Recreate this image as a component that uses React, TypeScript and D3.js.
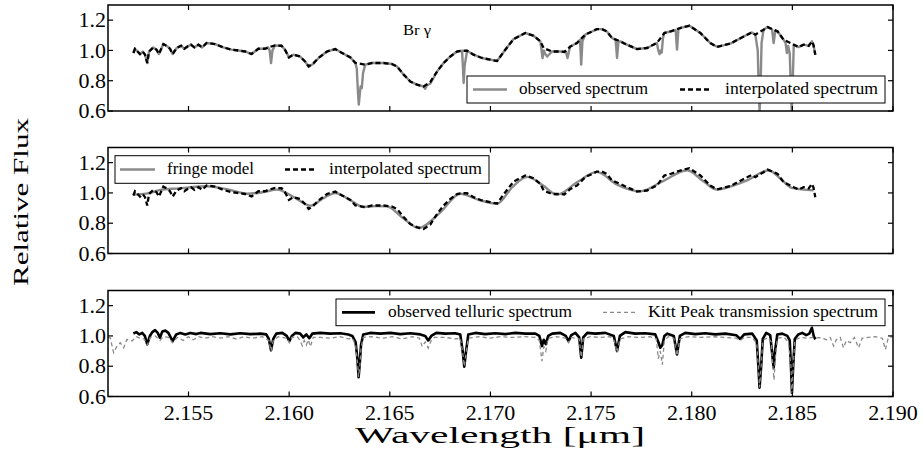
import React from 'react';
import * as d3 from 'd3';

// ---------------- data ----------------
const X_DOMAIN = [2.151, 2.19];
const Y_DOMAIN = [0.6, 1.3];
const X_TICKS = [2.155, 2.16, 2.165, 2.17, 2.175, 2.18, 2.185, 2.19];
const X_TICK_LABELS = ['2.155', '2.160', '2.165', '2.170', '2.175', '2.180', '2.185', '2.190'];
const Y_TICKS = [0.6, 0.8, 1.0, 1.2];
const Y_TICK_LABELS = ['0.6', '0.8', '1.0', '1.2'];

// interpolated spectrum (panels 1 and 2)
const INTERP_WL = [2.15226, 2.15234, 2.15247, 2.15259, 2.15272, 2.15284, 2.15295, 2.15304, 2.15325, 2.15341, 2.15353, 2.15375, 2.15396, 2.15408, 2.15421, 2.15441, 2.15463, 2.15479, 2.15495, 2.15512, 2.15529, 2.15549, 2.15568, 2.1559, 2.15632, 2.15673, 2.15714, 2.15756, 2.15781, 2.15813, 2.15847, 2.1588, 2.15896, 2.1593, 2.15962, 2.15979, 2.15999, 2.16021, 2.16054, 2.16079, 2.16097, 2.16121, 2.16146, 2.16188, 2.16229, 2.16263, 2.16304, 2.16329, 2.16378, 2.16412, 2.16469, 2.16511, 2.16536, 2.16569, 2.16602, 2.16635, 2.16668, 2.16701, 2.16735, 2.16767, 2.16801, 2.16834, 2.16859, 2.16884, 2.16916, 2.16958, 2.16999, 2.17033, 2.17074, 2.17115, 2.17173, 2.17214, 2.17248, 2.17264, 2.17306, 2.17347, 2.17367, 2.17397, 2.1743, 2.17471, 2.17505, 2.17529, 2.17554, 2.17579, 2.17604, 2.17645, 2.17678, 2.17728, 2.17778, 2.17827, 2.17864, 2.17894, 2.17943, 2.17989, 2.18043, 2.18092, 2.18126, 2.18192, 2.18258, 2.18299, 2.18316, 2.18357, 2.18377, 2.18427, 2.18456, 2.18507, 2.18531, 2.18556, 2.18581, 2.18597, 2.18605, 2.18614];
const INTERP_FLUX = [0.983, 1.011, 0.993, 0.976, 0.993, 0.972, 0.917, 0.993, 1.02, 1.005, 0.976, 1.042, 1.026, 1.011, 0.976, 1.016, 1.031, 1.011, 1.026, 1.038, 1.02, 1.038, 1.02, 1.049, 1.042, 1.02, 1.005, 0.998, 0.993, 0.976, 1.011, 1.011, 1.02, 1.033, 1.031, 1.005, 0.954, 0.972, 0.96, 0.927, 0.894, 0.917, 0.95, 0.993, 1.009, 0.983, 0.954, 0.917, 0.906, 0.917, 0.917, 0.91, 0.894, 0.84, 0.795, 0.774, 0.762, 0.791, 0.861, 0.917, 0.96, 0.993, 0.998, 0.998, 0.972, 0.95, 0.939, 0.93, 1.005, 1.075, 1.115, 1.097, 1.06, 1.016, 0.993, 0.993, 0.99, 1.026, 1.049, 1.104, 1.125, 1.141, 1.141, 1.125, 1.082, 1.06, 1.038, 1.009, 1.016, 1.049, 1.115, 1.125, 1.148, 1.163, 1.115, 1.049, 1.024, 1.045, 1.092, 1.119, 1.104, 1.137, 1.154, 1.125, 1.071, 1.038, 1.022, 1.038, 1.03, 1.06, 1.035, 0.972];

// observed spectrum (panel 1)
const OBS_WL = [2.15226, 2.15234, 2.15247, 2.15259, 2.15272, 2.15284, 2.15295, 2.15304, 2.15325, 2.15341, 2.15353, 2.15375, 2.15396, 2.15408, 2.15421, 2.15441, 2.15463, 2.15479, 2.15495, 2.15512, 2.15529, 2.15549, 2.15568, 2.1559, 2.15632, 2.15673, 2.15714, 2.15756, 2.15781, 2.15813, 2.15847, 2.1588, 2.15896, 2.15903, 2.1591, 2.15917, 2.1593, 2.15962, 2.15979, 2.15999, 2.16021, 2.16054, 2.16079, 2.16097, 2.16121, 2.16146, 2.16188, 2.16229, 2.16263, 2.16304, 2.16329, 2.16336, 2.16342, 2.16346, 2.1635, 2.16355, 2.16361, 2.16367, 2.16378, 2.16412, 2.16469, 2.16511, 2.16536, 2.16569, 2.16602, 2.16635, 2.16668, 2.16676, 2.16684, 2.16701, 2.16735, 2.16767, 2.16801, 2.16834, 2.16859, 2.16863, 2.16867, 2.16872, 2.16884, 2.16916, 2.16958, 2.16999, 2.17033, 2.17074, 2.17115, 2.17173, 2.17214, 2.17248, 2.17254, 2.17259, 2.17265, 2.17273, 2.17282, 2.17306, 2.17347, 2.17375, 2.17383, 2.17391, 2.17397, 2.1743, 2.17445, 2.17451, 2.17457, 2.17471, 2.17505, 2.17529, 2.17554, 2.17579, 2.17604, 2.17622, 2.17629, 2.17636, 2.17645, 2.17678, 2.17728, 2.17778, 2.17827, 2.17834, 2.1784, 2.17846, 2.17851, 2.17857, 2.17864, 2.17894, 2.1792, 2.17927, 2.17934, 2.17943, 2.17989, 2.18043, 2.18092, 2.18126, 2.18192, 2.18258, 2.18299, 2.18316, 2.18328, 2.18334, 2.18337, 2.18341, 2.18347, 2.18357, 2.18377, 2.18399, 2.18407, 2.18415, 2.18427, 2.18456, 2.18466, 2.18473, 2.18479, 2.18487, 2.18494, 2.18497, 2.185, 2.18507, 2.18531, 2.18556, 2.18581, 2.18597, 2.18605, 2.18614];
const OBS_FLUX = [0.983, 1.011, 0.993, 0.976, 0.993, 0.972, 0.917, 0.993, 1.02, 1.005, 0.976, 1.042, 1.026, 1.011, 0.976, 1.016, 1.031, 1.011, 1.026, 1.038, 1.02, 1.038, 1.02, 1.049, 1.042, 1.02, 1.005, 0.998, 0.993, 0.976, 1.011, 1.011, 1.02, 1.0, 0.917, 1.0, 1.033, 1.031, 1.005, 0.954, 0.972, 0.96, 0.927, 0.894, 0.912, 0.95, 0.993, 1.009, 0.983, 0.954, 0.917, 0.88, 0.72, 0.642, 0.7, 0.762, 0.752, 0.85, 0.906, 0.917, 0.917, 0.91, 0.894, 0.84, 0.795, 0.774, 0.762, 0.747, 0.77, 0.78, 0.861, 0.917, 0.96, 0.993, 0.998, 0.9, 0.785, 0.9, 0.998, 0.972, 0.95, 0.939, 0.93, 1.005, 1.075, 1.115, 1.097, 1.06, 1.0, 0.95, 1.0, 0.975, 0.96, 0.993, 0.993, 0.99, 0.95, 1.0, 1.026, 1.049, 1.07, 0.906, 1.06, 1.104, 1.125, 1.141, 1.141, 1.125, 1.082, 1.07, 0.95, 1.06, 1.06, 1.038, 1.009, 1.016, 1.049, 1.0, 0.975, 1.0, 0.985, 1.08, 1.115, 1.125, 1.135, 1.005, 1.14, 1.148, 1.163, 1.115, 1.049, 1.024, 1.045, 1.092, 1.119, 1.104, 1.0, 0.7, 0.6, 0.7, 1.05, 1.137, 1.154, 1.14, 1.049, 1.13, 1.125, 1.071, 1.05, 0.983, 1.03, 0.98, 0.7, 0.6, 0.7, 1.038, 1.022, 1.038, 1.03, 1.06, 1.035, 0.972];

// fringe model (panel 2)
const FRINGE_WL = [2.15224, 2.1529, 2.1536, 2.1545, 2.15592, 2.1569, 2.15791, 2.1587, 2.1594, 2.1602, 2.16105, 2.1617, 2.16229, 2.163, 2.1637, 2.1643, 2.16486, 2.1656, 2.16643, 2.1675, 2.1685, 2.1694, 2.17033, 2.1711, 2.17182, 2.1726, 2.17331, 2.1743, 2.17529, 2.17629, 2.17745, 2.1786, 2.17977, 2.1806, 2.18126, 2.1821, 2.18275, 2.18382, 2.18445, 2.18498, 2.18605];
const FRINGE_FLUX = [0.989, 0.995, 1.02, 1.03, 1.044, 1.025, 0.995, 1.005, 1.022, 0.975, 0.916, 0.965, 1.0, 0.955, 0.907, 0.913, 0.911, 0.84, 0.768, 0.87, 0.995, 0.955, 0.929, 1.04, 1.106, 1.05, 0.989, 1.07, 1.139, 1.055, 1.011, 1.08, 1.15, 1.075, 1.022, 1.05, 1.083, 1.15, 1.09, 1.033, 1.017];

// observed telluric spectrum (panel 3)
const TELL_WL = [2.15226, 2.15241, 2.15256, 2.1527, 2.15283, 2.15295, 2.15308, 2.1532, 2.15334, 2.15347, 2.15358, 2.1537, 2.15385, 2.154, 2.15421, 2.15439, 2.15459, 2.15484, 2.15509, 2.15539, 2.15559, 2.15608, 2.15658, 2.15708, 2.15757, 2.15807, 2.15857, 2.15886, 2.15899, 2.1591, 2.15921, 2.15936, 2.15966, 2.15988, 2.16001, 2.16013, 2.16031, 2.16055, 2.1607, 2.16085, 2.161, 2.16115, 2.16155, 2.16204, 2.16254, 2.16294, 2.16314, 2.1633, 2.16339, 2.16345, 2.16351, 2.16357, 2.16368, 2.16403, 2.16453, 2.16503, 2.16552, 2.16602, 2.16652, 2.16676, 2.16691, 2.16706, 2.16731, 2.16776, 2.16825, 2.1685, 2.16862, 2.1687, 2.16879, 2.1689, 2.16925, 2.16974, 2.17024, 2.17074, 2.17124, 2.17173, 2.17223, 2.17243, 2.17256, 2.17265, 2.17275, 2.17287, 2.17307, 2.17347, 2.17374, 2.17388, 2.17402, 2.17422, 2.17441, 2.17451, 2.17461, 2.17481, 2.17521, 2.17571, 2.17613, 2.17629, 2.17643, 2.1767, 2.1772, 2.17769, 2.17819, 2.17834, 2.17844, 2.17854, 2.17864, 2.17879, 2.17911, 2.17927, 2.17941, 2.17968, 2.18018, 2.18067, 2.18117, 2.18167, 2.18221, 2.18241, 2.18261, 2.18301, 2.18323, 2.18331, 2.18337, 2.18345, 2.18353, 2.1837, 2.1839, 2.184, 2.18407, 2.18414, 2.18425, 2.1845, 2.18475, 2.18487, 2.18493, 2.18498, 2.18504, 2.18512, 2.18529, 2.18549, 2.18569, 2.18584, 2.18597, 2.18606, 2.18614];
const TELL_FLUX = [1.016, 1.025, 1.01, 1.02, 1.0, 0.944, 1.0, 1.025, 1.038, 1.02, 0.988, 1.03, 1.035, 1.02, 0.966, 1.01, 1.02, 1.01, 1.02, 1.012, 1.02, 1.012, 1.018, 1.01, 1.018, 1.012, 1.015, 1.01, 0.98, 0.905, 0.98, 1.015, 1.02, 1.0, 0.966, 1.0, 1.02, 1.015, 0.99, 1.01, 0.985, 1.015, 1.02, 1.015, 1.018, 1.01, 1.0, 0.96, 0.85, 0.727, 0.82, 0.94, 1.01, 1.02, 1.015, 1.02, 1.012, 1.018, 1.01, 1.0, 0.97, 1.0, 1.02, 1.015, 1.018, 1.01, 0.9, 0.797, 0.9, 1.01, 1.02, 1.012, 1.018, 1.012, 1.02, 1.015, 1.015, 1.0, 0.933, 0.975, 0.945, 1.0, 1.015, 1.02, 1.0, 0.966, 1.005, 1.02, 0.99, 0.856, 0.99, 1.02, 1.015, 1.02, 1.0, 0.9, 1.0, 1.025, 1.015, 1.018, 1.01, 0.96, 0.922, 0.94, 1.0, 1.015, 1.0, 0.878, 1.0, 1.02, 1.012, 1.018, 1.01, 1.015, 1.005, 0.98, 1.01, 1.015, 0.97, 0.8, 0.658, 0.8, 0.98, 1.02, 1.005, 0.88, 0.79, 0.9, 1.01, 1.015, 1.0, 0.97, 0.8, 0.625, 0.8, 0.98, 1.01, 1.02, 1.005, 1.015, 1.054, 1.0, 0.977];

// Kitt Peak transmission spectrum (panel 3)
const KP_WL = [2.151, 2.15111, 2.15128, 2.15145, 2.15161, 2.15178, 2.15194, 2.15219, 2.15241, 2.1526, 2.1528, 2.15295, 2.1531, 2.15335, 2.15358, 2.15375, 2.154, 2.15421, 2.15444, 2.15474, 2.15499, 2.15524, 2.15549, 2.15583, 2.15618, 2.15658, 2.15698, 2.15737, 2.15777, 2.15817, 2.15867, 2.15899, 2.1591, 2.15921, 2.15946, 2.15988, 2.16001, 2.16013, 2.1604, 2.16055, 2.16065, 2.16075, 2.16085, 2.16095, 2.16105, 2.1612, 2.16155, 2.16204, 2.16254, 2.16294, 2.16314, 2.1633, 2.16339, 2.16345, 2.16351, 2.16357, 2.16368, 2.16413, 2.16463, 2.16512, 2.16562, 2.16612, 2.16647, 2.16661, 2.16676, 2.16691, 2.16706, 2.16721, 2.16776, 2.16825, 2.1685, 2.16862, 2.1687, 2.16879, 2.1689, 2.1694, 2.16999, 2.17049, 2.17109, 2.17168, 2.17223, 2.17243, 2.17256, 2.17265, 2.17275, 2.17287, 2.17327, 2.17374, 2.17388, 2.17402, 2.17441, 2.17451, 2.17461, 2.17496, 2.17546, 2.17595, 2.17615, 2.17629, 2.17643, 2.17685, 2.17745, 2.17794, 2.17824, 2.17834, 2.17844, 2.17854, 2.17864, 2.17884, 2.17911, 2.17927, 2.17941, 2.17983, 2.18043, 2.18102, 2.18162, 2.18221, 2.18241, 2.18261, 2.18301, 2.18323, 2.18331, 2.18337, 2.18345, 2.18353, 2.1838, 2.18395, 2.18403, 2.18409, 2.18415, 2.18425, 2.1846, 2.1848, 2.18493, 2.18498, 2.18504, 2.18512, 2.18539, 2.18574, 2.18604, 2.18639, 2.18669, 2.18688, 2.18705, 2.18718, 2.18738, 2.18754, 2.18768, 2.18788, 2.18808, 2.18829, 2.18847, 2.18877, 2.18912, 2.18947, 2.18962, 2.18977, 2.19];
const KP_FLUX = [0.99, 0.988, 0.889, 0.933, 0.955, 0.922, 0.977, 0.966, 0.995, 0.985, 0.98, 0.94, 0.99, 1.0, 0.97, 0.995, 0.99, 0.955, 0.99, 0.97, 0.995, 0.975, 0.995, 0.985, 0.995, 0.985, 0.995, 0.98, 0.995, 0.985, 0.995, 0.97, 0.9, 0.97, 0.995, 0.985, 0.955, 0.99, 0.995, 0.97, 0.935, 0.97, 0.94, 0.975, 0.93, 0.99, 0.99, 0.985, 0.995, 0.98, 0.985, 0.94, 0.83, 0.73, 0.8, 0.92, 0.99, 0.995, 0.985, 0.995, 0.98, 0.995, 0.985, 0.93, 0.96, 0.92, 0.97, 0.99, 0.99, 0.98, 0.985, 0.89, 0.8, 0.89, 0.985, 0.995, 0.985, 0.995, 0.99, 0.995, 0.99, 0.97, 0.834, 0.93, 0.9, 0.985, 0.995, 0.985, 0.955, 0.99, 0.98, 0.86, 0.98, 0.995, 0.99, 0.995, 0.97, 0.89, 0.98, 0.995, 0.99, 0.995, 0.98, 0.85, 0.9, 0.81, 0.97, 0.995, 0.985, 0.87, 0.98, 0.995, 0.99, 0.995, 0.99, 0.985, 0.97, 0.99, 0.99, 0.95, 0.8, 0.66, 0.8, 0.97, 0.99, 0.96, 0.8, 0.71, 0.85, 0.985, 0.99, 0.96, 0.8, 0.62, 0.8, 0.97, 0.99, 0.985, 0.99, 0.988, 0.975, 0.99, 0.933, 0.975, 0.99, 0.922, 0.97, 0.955, 0.99, 0.922, 0.985, 0.99, 0.995, 0.985, 0.91, 0.99, 0.995];

// ---------------- layout ----------------
const W = 923;
const H = 453;
const LEFT = 108;
const RIGHT = 893;
const PANEL_TOPS = [5, 147.5, 290.5];
const PANEL_H = 106;
const FONT = '"Liberation Serif", "Times New Roman", serif';
const GRAY = '#8a8a8a';

const zip = (a: number[], b: number[]) => a.map((v, i) => [v, b[i]] as [number, number]);

export default function App() {
  const x = d3.scaleLinear().domain(X_DOMAIN).range([LEFT, RIGHT]);
  const ys = PANEL_TOPS.map((t) => d3.scaleLinear().domain(Y_DOMAIN).range([t + PANEL_H, t]));

  const lineFor = (y: d3.ScaleLinear<number, number>, curve: d3.CurveFactory = d3.curveLinear) =>
    d3.line<[number, number]>().x((d) => x(d[0])).y((d) => y(d[1])).curve(curve);

  const interp = zip(INTERP_WL, INTERP_FLUX);
  const obs = zip(OBS_WL, OBS_FLUX);
  const fringe = zip(FRINGE_WL, FRINGE_FLUX);
  const tell = zip(TELL_WL, TELL_FLUX);
  const kp = zip(KP_WL, KP_FLUX);

  const frame = (i: number) => {
    const top = PANEL_TOPS[i];
    const bottom = top + PANEL_H;
    const y = ys[i];
    return (
      <g key={'frame' + i}>
        {X_TICKS.map((t) => (
          <g key={'xt' + t}>
            <line x1={x(t)} x2={x(t)} y1={bottom} y2={bottom - 5} stroke="#000" strokeWidth={1.2} />
            <line x1={x(t)} x2={x(t)} y1={top} y2={top + 5} stroke="#000" strokeWidth={1.2} />
          </g>
        ))}
        {Y_TICKS.map((t, j) => (
          <g key={'yt' + t}>
            <line x1={LEFT} x2={LEFT + 5} y1={y(t)} y2={y(t)} stroke="#000" strokeWidth={1.2} />
            <line x1={RIGHT} x2={RIGHT - 5} y1={y(t)} y2={y(t)} stroke="#000" strokeWidth={1.2} />
            <text x={106} y={y(t)} dy="0.33em" textAnchor="end" fontSize={22} fontFamily={FONT}>
              {Y_TICK_LABELS[j]}
            </text>
          </g>
        ))}
        <rect x={LEFT} y={top} width={RIGHT - LEFT} height={PANEL_H} fill="none" stroke="#000" strokeWidth={1.5} />
      </g>
    );
  };

  const legend = (
    bx: number, by: number, bw: number, bh: number,
    items: { x1: number; x2: number; tx: number; label: string; tl: number; color: string; dash?: string; sw: number }[],
  ) => (
    <g>
      <rect x={bx} y={by} width={bw} height={bh} fill="#fff" stroke="#000" strokeWidth={1} />
      {items.map((it) => (
        <g key={it.label}>
          <line x1={it.x1} x2={it.x2} y1={by + bh / 2} y2={by + bh / 2} stroke={it.color} strokeWidth={it.sw} strokeDasharray={it.dash} />
          <text x={it.tx} y={by + bh / 2 + 4.5} fontSize={16} fontFamily={FONT} textLength={it.tl} lengthAdjust="spacingAndGlyphs">
            {it.label}
          </text>
        </g>
      ))}
    </g>
  );

  return (
    <svg width={W} height={H} style={{ position: 'absolute', left: 0, top: 0, background: '#fff' }}>
      <defs>
        {PANEL_TOPS.map((t, i) => (
          <clipPath id={'clip' + i} key={i}>
            <rect x={LEFT} y={t} width={RIGHT - LEFT} height={PANEL_H} />
          </clipPath>
        ))}
      </defs>
      <rect x={0} y={0} width={W} height={H} fill="#fff" />

      {/* Panel 1 */}
      <g clipPath="url(#clip0)">
        <path d={lineFor(ys[0])(obs) || ''} fill="none" stroke={GRAY} strokeWidth={2.4} strokeLinejoin="round" />
        <path d={lineFor(ys[0])(interp) || ''} fill="none" stroke="#000" strokeWidth={2.3} strokeDasharray="5,3" />
      </g>
      <text x={403} y={35} fontSize={14} fontFamily={FONT} textLength={28} lengthAdjust="spacingAndGlyphs">Br γ</text>
      {frame(0)}
      {legend(467, 76, 418, 27, [
        { x1: 473, x2: 507, tx: 519, label: 'observed spectrum', tl: 129, color: GRAY, sw: 2.4 },
        { x1: 680, x2: 712, tx: 725, label: 'interpolated spectrum', tl: 153, color: '#000', dash: '5,3', sw: 2.3 },
      ])}

      {/* Panel 2 */}
      <g clipPath="url(#clip1)">
        <path d={lineFor(ys[1], d3.curveMonotoneX)(fringe) || ''} fill="none" stroke={GRAY} strokeWidth={2.4} />
        <path d={lineFor(ys[1])(interp) || ''} fill="none" stroke="#000" strokeWidth={2.3} strokeDasharray="5,3" />
      </g>
      {frame(1)}
      {legend(115, 155.7, 374, 27.6, [
        { x1: 120, x2: 155, tx: 167, label: 'fringe model', tl: 87, color: GRAY, sw: 2.4 },
        { x1: 285, x2: 317, tx: 329, label: 'interpolated spectrum', tl: 153, color: '#000', dash: '5,3', sw: 2.3 },
      ])}

      {/* Panel 3 */}
      <g clipPath="url(#clip2)">
        <path d={lineFor(ys[2])(tell) || ''} fill="none" stroke="#000" strokeWidth={2.6} strokeLinejoin="round" />
        <path d={lineFor(ys[2])(kp) || ''} fill="none" stroke={GRAY} strokeWidth={1.3} strokeDasharray="4,3" />
      </g>
      {frame(2)}
      {legend(336, 299, 549, 26.7, [
        { x1: 342, x2: 375, tx: 388, label: 'observed telluric spectrum', tl: 184, color: '#000', sw: 2.6 },
        { x1: 603, x2: 635, tx: 648, label: 'Kitt Peak transmission spectrum', tl: 230, color: GRAY, dash: '4,3', sw: 1.3 },
      ])}
      {X_TICKS.map((t, j) => (
        <text key={'xl' + t} x={x(t)} y={420} textAnchor="middle" fontSize={22} fontFamily={FONT}>
          {X_TICK_LABELS[j]}
        </text>
      ))}

      <text x={500} y={443} textAnchor="middle" fontSize={23} fontFamily={FONT} textLength={290} lengthAdjust="spacingAndGlyphs">
        Wavelength [μm]
      </text>
      <text transform="translate(28,202) rotate(-90)" textAnchor="middle" fontSize={22} fontFamily={FONT} textLength={168} lengthAdjust="spacingAndGlyphs">
        Relative Flux
      </text>
    </svg>
  );
}
